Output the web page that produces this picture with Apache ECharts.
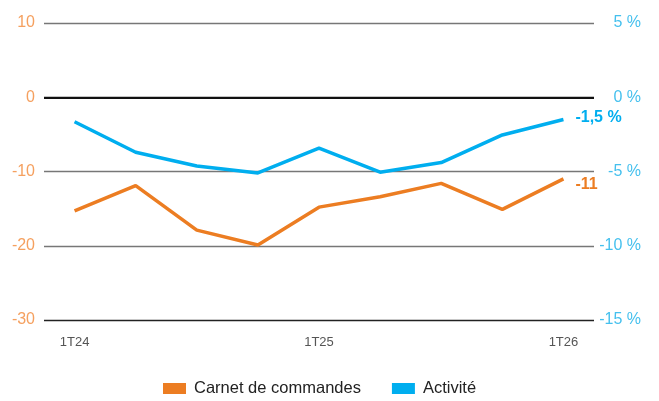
<!DOCTYPE html>
<html>
<head>
<meta charset="utf-8">
<script src="https://cdn.jsdelivr.net/npm/echarts@6/dist/echarts.min.js"></script>
<style>
    html, body { margin: 0; padding: 0; background: #fff; }
</style>
</head>
<body>
<div id="main" style="width: 659px; height: 401px"></div>
<script>
// trimestres (axe x)
const quarters = ["1T24", "2T24", "3T24", "4T24", "1T25", "2T25", "3T25", "4T25", "1T26"];
// carnet de commandes (axe gauche)
const carnet = [-15.3, -11.9, -17.9, -19.9, -14.8, -13.4, -11.6, -15.1, -11];
// activité en % (axe droit)
const activite = [-1.65, -3.7, -4.63, -5.1, -3.42, -5.05, -4.4, -2.54, -1.5];
// graduations affichées
const shownQuarters = ["1T24", "1T25", "1T26"];

const orange = "#EC7D22";
const blue = "#00AEEF";
const font = "Liberation Sans, Arial, sans-serif";

const chart = echarts.init(document.getElementById("main"));

const option = {
    animation: false,
    textStyle: { fontFamily: font },
    grid: { left: 44, right: 65, top: 23, bottom: 81 },
    legend: {
        left: 163,
        top: 380,
        padding: 0,
        itemWidth: 23,
        itemHeight: 11,
        itemGap: 31,
        icon: "rect",
        textStyle: { fontSize: 16.5, color: "#222", padding: [0, 0, 0, 3] },
        data: ["Carnet de commandes", "Activité"],
    },
    xAxis: {
        type: "category",
        data: quarters,
        boundaryGap: true,
        axisLine: { show: false },
        axisTick: { show: false },
        axisLabel: {
            margin: 16,
            fontSize: 13,
            color: "#555",
            interval: 0,
            formatter: v => (shownQuarters.includes(v) ? v : ""),
        },
    },
    yAxis: [
        {
            type: "value",
            min: -30,
            max: 10,
            interval: 10,
            axisLine: { show: false },
            axisTick: { show: false },
            axisLabel: { margin: 9, fontSize: 16, color: "#F5A05F" },
            // -30, -20, -10, 0, 10
            splitLine: { lineStyle: { color: ["#222", "#777", "#777", "#111", "#777"], width: 1.3 } },
        },
        {
            type: "value",
            min: -15,
            max: 5,
            interval: 5,
            position: "right",
            axisLine: { show: false },
            axisTick: { show: false },
            splitLine: { show: false },
            axisLabel: {
                margin: 47,
                align: "right",
                fontSize: 16,
                color: "#45C0EE",
                formatter: v => v + " %",
            },
        },
    ],
    series: [
        {
            name: "Carnet de commandes",
            type: "line",
            yAxisIndex: 0,
            data: carnet,
            symbol: "none",
            lineStyle: { color: orange, width: 3.5 },
            itemStyle: { color: orange },
            endLabel: {
                show: true,
                distance: 12,
                offset: [0, 6],
                fontSize: 16,
                fontWeight: "bold",
                color: orange,
                formatter: p => String(p.value).replace(".", ","),
            },
            markLine: {
                silent: true,
                symbol: "none",
                label: { show: false },
                lineStyle: { color: "#111", width: 2.2, type: "solid" },
                data: [{ yAxis: 0 }],
            },
            z: 3,
        },
        {
            name: "Activité",
            type: "line",
            yAxisIndex: 1,
            data: activite,
            symbol: "none",
            lineStyle: { color: blue, width: 3.5 },
            itemStyle: { color: blue },
            endLabel: {
                show: true,
                distance: 12,
                offset: [0, -2],
                fontSize: 16,
                fontWeight: "bold",
                color: blue,
                formatter: p => String(p.value).replace(".", ",") + " %",
            },
            z: 4,
        },
    ],
};

chart.setOption(option);
</script>
</body>
</html>
